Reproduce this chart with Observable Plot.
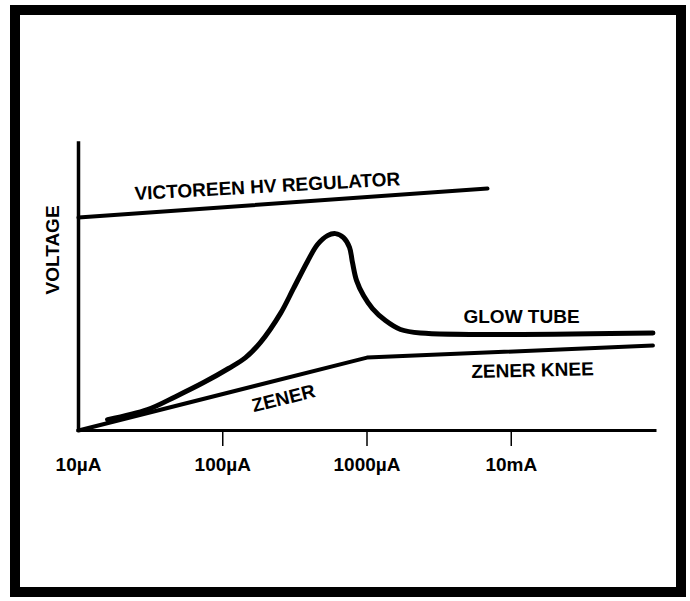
<!DOCTYPE html>
<html>
<head>
<meta charset="utf-8">
<script src="https://cdn.jsdelivr.net/npm/d3@7"></script>
<script src="https://cdn.jsdelivr.net/npm/@observablehq/plot@0.6"></script>
<style>
  html, body { margin: 0; padding: 0; background: #fff; }
  #chart svg { display: block; }
</style>
</head>
<body>
<div id="chart"></div>
<script>
// Current (µA, log scale) and relative voltage (0–100, arbitrary units)
const glowCurrent = [15.9, 30.1, 47.0, 73.6, 109.6, 143.8, 182.7, 251.4, 309.4, 386.8, 453.7, 532.3, 604.6, 687.4, 756.3, 793.3, 845.7, 945.6, 1092, 1343, 1707, 2349, 96000];
const glowVoltage = [3.8, 7.3, 11.8, 16.7, 21.6, 25.4, 30.7, 40.8, 49.5, 58.9, 64.8, 67.9, 68.6, 67.2, 63.8, 58.5, 52.3, 47.0, 42.5, 38.3, 35.2, 34.0, 34.0];

const zenerCurrent = [10, 1000, 96000];
const zenerVoltage = [0, 25.4, 29.6];

const victoreenCurrent = [10, 6845];
const victoreenVoltage = [74.2, 84.3];

const tickValues = [10, 100, 1000, 10000];
const tickLabels = ["10µA", "100µA", "1000µA", "10mA"];

const labelText = ["VICTOREEN HV REGULATOR", "GLOW TUBE", "ZENER KNEE", "ZENER"];
const labelCurrent = [204, 11780, 14040, 264];
const labelVoltage = [85.0, 39.7, 20.9, 11.1];
const labelAngle = [-3.2, 0, -1.4, -14];

const yTitle = "VOLTAGE";
const yTitleVoltage = 47.4;

const glow = glowCurrent.map((c, i) => ({current: c, voltage: glowVoltage[i]}));
const zener = zenerCurrent.map((c, i) => ({current: c, voltage: zenerVoltage[i]}));
const victoreen = victoreenCurrent.map((c, i) => ({current: c, voltage: victoreenVoltage[i]}));
const labels = labelText.map((t, i) => ({text: t, current: labelCurrent[i], voltage: labelVoltage[i], angle: labelAngle[i]}));

const font = {fontSize: 19, fontWeight: "bold", fill: "#000"};

const chart = Plot.plot({
  width: 690,
  height: 601,
  marginLeft: 78,
  marginRight: 35,
  marginTop: 143,
  marginBottom: 171,
  style: {fontFamily: "'Liberation Sans', Arial, Helvetica, sans-serif", background: "#fff", color: "#000"},
  x: {type: "log", domain: [10, 100000], axis: null, label: null},
  y: {domain: [0, 100], axis: null, label: null},
  marks: [
    Plot.ruleY([0], {strokeWidth: 3, stroke: "#000", strokeLinecap: "square"}),
    Plot.ruleX([10], {strokeWidth: 3.5, stroke: "#000", strokeLinecap: "square"}),
    Plot.axisX(tickValues.slice(1), {
      anchor: "bottom", label: null, tickSize: 16, tickPadding: 11, strokeWidth: 1.5,
      tickFormat: d => tickLabels[tickValues.indexOf(d)], ...font
    }),
    Plot.axisX(tickValues.slice(0, 1), {
      anchor: "bottom", label: null, tickSize: 0, tickPadding: 27,
      tickFormat: d => tickLabels[tickValues.indexOf(d)], ...font
    }),
    Plot.line(victoreen, {x: "current", y: "voltage", stroke: "#000", strokeWidth: 4, strokeLinecap: "round"}),
    Plot.line(zener, {x: "current", y: "voltage", stroke: "#000", strokeWidth: 4, strokeLinecap: "round", strokeLinejoin: "round"}),
    Plot.line(glow, {x: "current", y: "voltage", curve: "catmull-rom", stroke: "#000", strokeWidth: 5, strokeLinecap: "round"}),
    Plot.text(labels, {x: "current", y: "voltage", text: "text", rotate: "angle", ...font}),
    Plot.text([yTitle], {y: [yTitleVoltage], text: d => d, frameAnchor: "left", dx: -26, rotate: -90, ...font})
  ]
});

// outer border frame
d3.select(chart).append("rect")
  .attr("x", 15).attr("y", 10)
  .attr("width", 666).attr("height", 582)
  .attr("fill", "none").attr("stroke", "#000").attr("stroke-width", 10);

document.getElementById("chart").appendChild(chart);
</script>
</body>
</html>
